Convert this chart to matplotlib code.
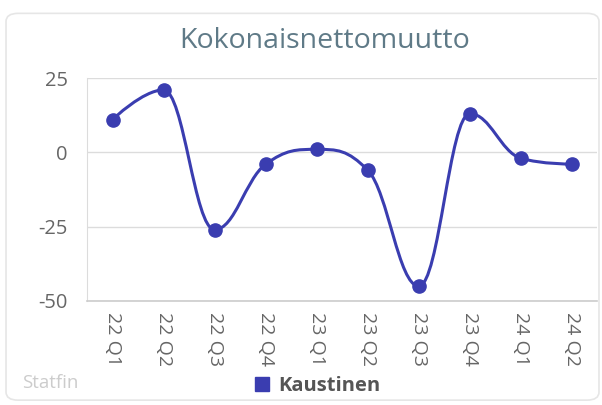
import numpy as np
import matplotlib.pyplot as plt
from matplotlib.patches import FancyBboxPatch
from matplotlib.path import Path
from matplotlib.patches import PathPatch

quarters = ['22 Q1', '22 Q2', '22 Q3', '22 Q4', '23 Q1', '23 Q2', '23 Q3', '23 Q4', '24 Q1', '24 Q2']
kaustinen = [11, 21, -26, -4, 1, -6, -45, 13, -2, -4]
y_ticks = [25, 0, -25, -50]

line_col = '#3a3db0'
text_col = '#666666'


def spline_path(xs, ys):
    # Highcharts-tyylinen spline (smoothing 1.5)
    n = len(xs)
    verts = [(xs[0], ys[0])]
    codes = [Path.MOVETO]
    conts = []
    for i in range(n):
        if i == 0 or i == n - 1:
            conts.append(((xs[i], ys[i]), (xs[i], ys[i])))
            continue
        x, y = xs[i], ys[i]
        px, py = xs[i - 1], ys[i - 1]
        nx, ny = xs[i + 1], ys[i + 1]
        lcx = (1.5 * x + px) / 2.5
        lcy = (1.5 * y + py) / 2.5
        rcx = (1.5 * x + nx) / 2.5
        rcy = (1.5 * y + ny) / 2.5
        corr = ((rcy - lcy) * (rcx - x)) / (rcx - lcx) + y - rcy
        lcy += corr
        rcy += corr
        if lcy > py and lcy > y:
            lcy = max(py, y)
            rcy = 2 * y - lcy
        elif lcy < py and lcy < y:
            lcy = min(py, y)
            rcy = 2 * y - lcy
        if rcy > ny and rcy > y:
            rcy = max(ny, y)
            lcy = 2 * y - rcy
        elif rcy < ny and rcy < y:
            rcy = min(ny, y)
            lcy = 2 * y - rcy
        conts.append(((lcx, lcy), (rcx, rcy)))
    for i in range(1, n):
        verts += [conts[i - 1][1], conts[i][0], (xs[i], ys[i])]
        codes += [Path.CURVE4] * 3
    return Path(verts, codes)


fig = plt.figure(figsize=(6.02, 4.05), dpi=100)
fig.patch.set_facecolor('white')

# kortin reunus
card = FancyBboxPatch((0.01, 0.012), 0.985, 0.955, boxstyle='round,pad=0,rounding_size=0.02',
                      transform=fig.transFigure, facecolor='none', edgecolor='#e6e6e6', lw=1.2,
                      zorder=-1)
fig.patches.append(card)

ax = fig.add_axes([0.1445, 0.2568, 0.848, 0.5506])
ax.set_facecolor('none')
x = np.arange(len(quarters))

ax.add_patch(PathPatch(spline_path(x, kaustinen), facecolor='none', edgecolor=line_col, lw=2.2, zorder=3))
ax.plot(x, kaustinen, 'o', color=line_col, markersize=9.5, zorder=4)

ax.set_xlim(-0.5, len(quarters) - 0.5)
ax.set_ylim(-50, 25)
ax.set_yticks(y_ticks)
ax.set_yticklabels([str(v) for v in y_ticks], fontsize=14.5, color=text_col, fontfamily='Open Sans')
ax.set_xticks(x)
ax.set_xticklabels(quarters, rotation=-90, fontsize=14, color=text_col, fontfamily='Open Sans')
ax.tick_params(axis='y', length=0, pad=14)
ax.tick_params(axis='x', length=0, pad=8)
ax.grid(axis='y', color='#dcdcdc', lw=1)
for s in ['top', 'right']:
    ax.spines[s].set_visible(False)
ax.spines['left'].set_color('#dcdcdc')
ax.spines['bottom'].set_color('#cccccc')
ax.spines['bottom'].set_linewidth(1.2)

fig.text(0.54, 0.9, 'Kokonaisnettomuutto', ha='center', va='center', fontsize=20.5,
         color='#5f7a87', fontfamily='Open Sans')
fig.text(0.036, 0.054, 'Statfin', ha='left', va='center', fontsize=13.5, color='#cccccc',
         fontfamily='Open Sans')

leg = fig.legend(handles=[plt.Line2D([], [], marker='s', ls='', color=line_col, markersize=10)],
                 labels=['Kaustinen'], loc='center', bbox_to_anchor=(0.525, 0.047), frameon=False,
                 handletextpad=0.3, handlelength=1.0,
                 prop={'family': 'Open Sans', 'weight': 'bold', 'size': 14.5})
for t in leg.get_texts():
    t.set_color('#555555')

fig.savefig('out.png', dpi=100)
